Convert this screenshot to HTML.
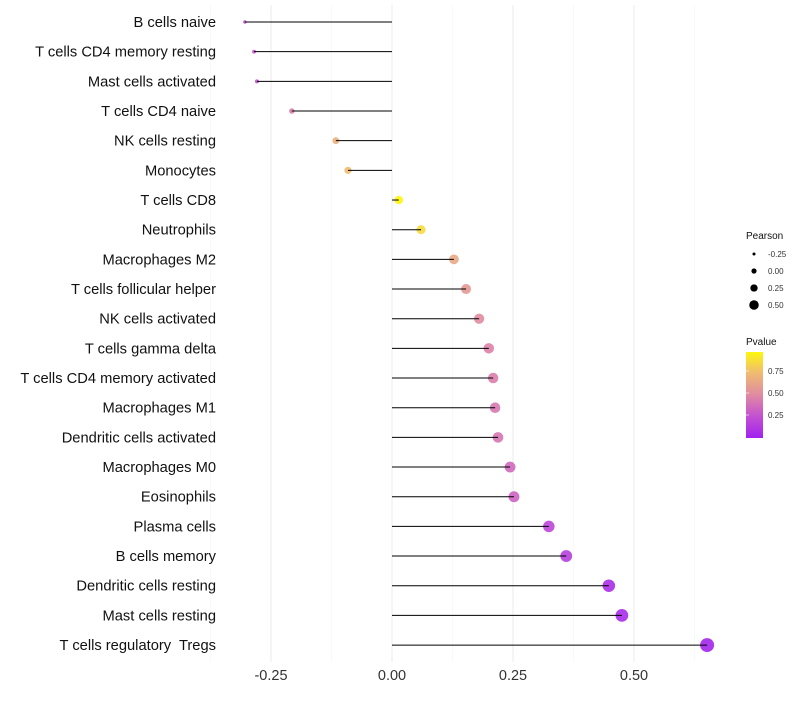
<!DOCTYPE html>
<html><head><meta charset="utf-8"><style>body{margin:0;background:#fff}svg{font-family:"Liberation Sans",sans-serif}text{white-space:pre}</style></head>
<body>
<svg id="c" width="800" height="700"></svg>
<script>
const categories=["B cells naive","T cells CD4 memory resting","Mast cells activated","T cells CD4 naive","NK cells resting","Monocytes","T cells CD8","Neutrophils","Macrophages M2","T cells follicular helper","NK cells activated","T cells gamma delta","T cells CD4 memory activated","Macrophages M1","Dendritic cells activated","Macrophages M0","Eosinophils","Plasma cells","B cells memory","Dendritic cells resting","Mast cells resting","T cells regulatory  Tregs"];
const pearson=[-0.304,-0.285,-0.279,-0.207,-0.116,-0.091,0.014,0.060,0.128,0.153,0.180,0.200,0.209,0.213,0.219,0.244,0.252,0.324,0.360,0.448,0.475,0.651];
const pvalue=[0.24,0.26,0.26,0.44,0.68,0.74,0.97,0.86,0.64,0.56,0.5,0.46,0.44,0.42,0.41,0.35,0.33,0.2,0.16,0.08,0.06,0.03];
const xTicks=[-0.25,0,0.25,0.5];
const xTickLabels=["-0.25","0.00","0.25","0.50"];
const sizeLegend=[-0.25,0,0.25,0.5];
const sizeLegendLabels=["-0.25","0.00","0.25","0.50"];
const colorLegend=[0.25,0.5,0.75];
const NS="http://www.w3.org/2000/svg";
const svg=document.getElementById('c');
const x=v=>392+v*484;
const y=i=>22+i*29.67;
const pmin=Math.min(...pearson),pmax=Math.max(...pearson);
const r=p=>Math.sqrt(2.9+46.1*(p-pmin)/(pmax-pmin));
const lr=p=>2.1+p*4.3+0.5;
function col(t){const s=[[160,32,240],[195,80,210],[225,140,160],[240,190,110],[255,255,0]];const f=Math.max(0,Math.min(0.9999,t))*4;const k=Math.floor(f),u=f-k;const a=s[k],b=s[k+1];return `rgb(${a.map((v,j)=>Math.round(v+(b[j]-v)*u)).join(',')})`;}
function mk(tag,at,txt){const e=document.createElementNS(NS,tag);for(const k in at)e.setAttribute(k,at[k]);if(txt!==undefined)e.textContent=txt;svg.appendChild(e);return e;}
for(let v=-0.375;v<=0.63;v+=0.125){const major=Math.abs(v/0.25-Math.round(v/0.25))<1e-6;const g=mk('line',{x1:x(v),x2:x(v),y1:5,y2:662,stroke:major?'#ebebeb':'#f5f5f5','stroke-width':major?1:0.6});

}
xTicks.forEach((v,i)=>{const t=mk('text',{x:x(v),y:680,'text-anchor':'middle','font-size':14.5,fill:'#333'},xTickLabels[i]);

});
categories.forEach((c,i)=>{
const t=mk('text',{x:216,y:y(i)+5,'text-anchor':'end','font-size':14.7,fill:'#111'},c);


const d=mk('circle',{cx:x(pearson[i]),cy:y(i),r:r(pearson[i]),fill:col(pvalue[i]),'fill-opacity':0.9});


const l=mk('line',{x1:x(0),x2:x(pearson[i]),y1:y(i),y2:y(i),stroke:'#000','stroke-width':1});


});
const st=mk('text',{x:746,y:239,'font-size':10,fill:'#111'},'Pearson');


sizeLegend.forEach((v,i)=>{const cy=254+i*17;
const c=mk('circle',{cx:754,cy:cy,r:lr(v),fill:'#000'});


const t=mk('text',{x:768,y:cy+3,'font-size':8,fill:'#333'},sizeLegendLabels[i]);

});
const ct=mk('text',{x:746,y:345,'font-size':10,fill:'#111'},'Pvalue');


const defs=mk('defs',{});
const lg=document.createElementNS(NS,'linearGradient');lg.setAttribute('id','g');lg.setAttribute('x1',0);lg.setAttribute('x2',0);lg.setAttribute('y1',1);lg.setAttribute('y2',0);defs.appendChild(lg);
for(let k=0;k<=20;k++){const s=document.createElementNS(NS,'stop');s.setAttribute('offset',k/20);s.setAttribute('stop-color',col(0.01+0.96*k/20));lg.appendChild(s);}
const cb=mk('rect',{x:746,y:352,width:17,height:86,fill:'url(#g)'});


const cy=v=>437-(v)*88;
colorLegend.forEach(v=>{
const tk=mk('line',{x1:746,x2:749,y1:cy(v),y2:cy(v),stroke:'#fff','stroke-opacity':0.6});


const t=mk('text',{x:768,y:cy(v)+3,'font-size':8,fill:'#333'},v.toFixed(2));

});
</script>
</body></html>
